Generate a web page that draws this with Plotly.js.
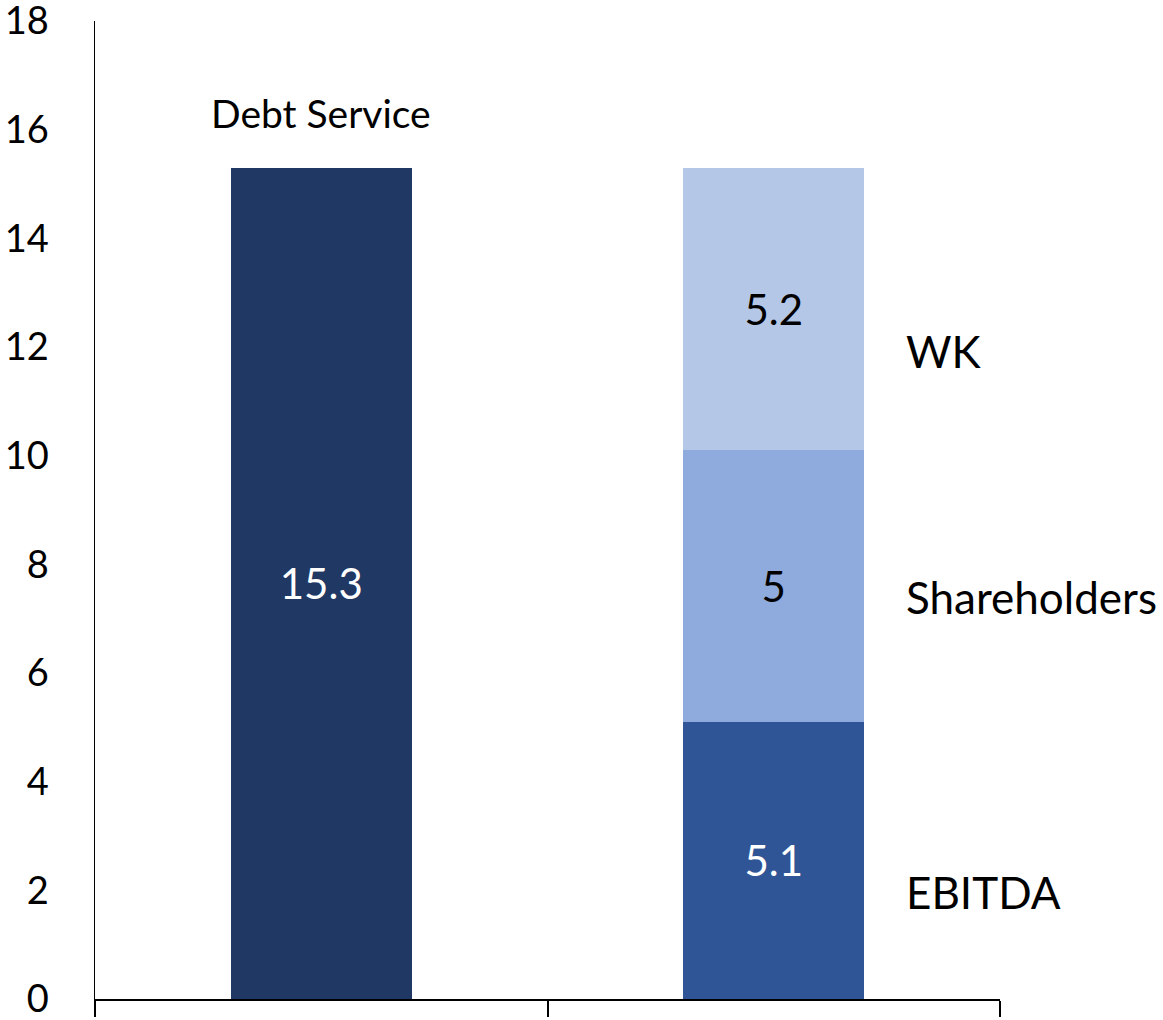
<!DOCTYPE html>
<html>
<head>
<meta charset="utf-8">
<script src="https://cdn.plot.ly/plotly-3.0.1.min.js"></script>
<style>html,body{margin:0;padding:0;background:#fff;}#chart{width:1163px;height:1020px;}</style>
</head>
<body>
<div id="chart"></div>
<script>
const categories = ["Uses", "Sources"];
const debtServiceLabel = "Debt Service";
const debtServiceValue = 15.3;
const sourceNames = ["EBITDA", "Shareholders", "WK"];
const sourceValues = [5.1, 5.0, 5.2];
const sourceTexts = ["5.1", "5", "5.2"];
const yTickValues = [0, 2, 4, 6, 8, 10, 12, 14, 16, 18];

const FONT = "Lato, Open Sans, sans-serif";
const sourceColors = ["#2F5597", "#8FAADC", "#B4C7E7"];
const sourceTextColors = ["#ffffff", "#000000", "#000000"];
const labelYShift = [-32, -11, -42];

const traces = [{
  type: "bar",
  x: [categories[0]],
  y: [debtServiceValue],
  text: [String(debtServiceValue)],
  textposition: "inside",
  insidetextanchor: "middle",
  textangle: 0,
  constraintext: "none",
  textfont: {family: FONT, size: 42, color: "#ffffff"},
  marker: {color: "#203864", line: {width: 0}},
  width: 0.4,
  hoverinfo: "none",
  showlegend: false
}];
sourceNames.forEach((n, i) => {
  traces.push({
    type: "bar",
    name: n,
    x: [categories[1]],
    y: [sourceValues[i]],
    text: [sourceTexts[i]],
    textposition: "inside",
    insidetextanchor: "middle",
    textangle: 0,
    constraintext: "none",
    textfont: {family: FONT, size: 42, color: sourceTextColors[i]},
    marker: {color: sourceColors[i], line: {width: 0}},
    width: 0.4,
    hoverinfo: "none",
    showlegend: false
  });
});

const annotations = [];
let cum = 0;
sourceNames.forEach((n, i) => {
  const mid = cum + sourceValues[i] / 2;
  cum += sourceValues[i];
  annotations.push({
    x: 1, xref: "x", y: mid, yref: "y",
    text: n, showarrow: false,
    xanchor: "left", yanchor: "middle",
    xshift: 130, yshift: labelYShift[i],
    font: {family: FONT, size: 44, color: "#000000"}
  });
});
annotations.push({
  x: 0, xref: "x", y: debtServiceValue, yref: "y",
  text: debtServiceLabel, showarrow: false,
  xanchor: "center", yanchor: "middle", yshift: 55,
  font: {family: FONT, size: 39, color: "#000000"}
});

const layout = {
  width: 1163, height: 1020,
  margin: {l: 95, r: 163, t: 21, b: 21, pad: 0},
  paper_bgcolor: "#ffffff", plot_bgcolor: "#ffffff",
  barmode: "stack",
  font: {family: FONT, color: "#000000"},
  xaxis: {
    type: "category",
    range: [-0.5, 1.5],
    showticklabels: false,
    showline: true, linecolor: "#000000", linewidth: 2,
    ticks: "outside", tickson: "boundaries", ticklen: 16, tickwidth: 2, tickcolor: "#000000",
    showgrid: false, zeroline: false, fixedrange: true
  },
  yaxis: {
    range: [0, 18],
    tickvals: yTickValues,
    ticktext: yTickValues.map(String),
    showline: true, linecolor: "#000000", linewidth: 1.5,
    ticks: "", showgrid: false, zeroline: false,
    ticklabelstandoff: 37,
    ticklabeloverflow: "allow",
    tickfont: {family: FONT, size: 38, color: "#000000"},
    fixedrange: true
  },
  annotations: annotations
};

Plotly.newPlot("chart", traces, layout, {displayModeBar: false, staticPlot: true});
</script>
</body>
</html>
